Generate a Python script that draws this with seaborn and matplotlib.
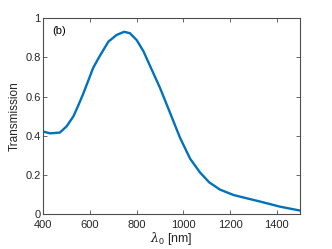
import numpy as np
import pandas as pd
import matplotlib
matplotlib.use('Agg')
import matplotlib.pyplot as plt
import seaborn as sns

# Values
wavelength = [400, 429, 471, 500, 529, 550, 571, 593, 614, 643, 679, 714, 746,
              771, 800, 829, 857, 900, 943, 986, 1029, 1071, 1111, 1157, 1214,
              1243, 1329, 1414, 1500]
transmission = [0.422, 0.413, 0.417, 0.449, 0.50, 0.556, 0.615, 0.683, 0.748,
                 0.81, 0.881, 0.915, 0.931, 0.924, 0.889, 0.832, 0.758, 0.645,
                 0.518, 0.39, 0.284, 0.214, 0.163, 0.126, 0.099, 0.090, 0.065,
                 0.039, 0.019]
xticks = [400, 600, 800, 1000, 1200, 1400]
yticks = [0, 0.2, 0.4, 0.6, 0.8, 1]
yticklabels = ['0', '0.2', '0.4', '0.6', '0.8', '1']

df = pd.DataFrame({'wl': wavelength, 'T': transmission})

sns.set_style('ticks')
plt.rcParams['font.family'] = ['Liberation Sans', 'DejaVu Sans']
plt.rcParams['mathtext.fontset'] = 'custom'
plt.rcParams['mathtext.rm'] = 'Liberation Sans'
plt.rcParams['mathtext.it'] = 'DejaVu Serif:italic'

fig = plt.figure(figsize=(3.32, 2.49), dpi=100)
ax = fig.add_axes([0.1305, 0.1394, 0.7731, 0.7871])

sns.lineplot(data=df, x='wl', y='T', ax=ax, color='#0072BD', linewidth=1.7,
             solid_joinstyle='round')

ax.set_xlim(400, 1500)
ax.set_ylim(0, 1)
ax.set_xticks(xticks)
ax.set_yticks(yticks)
ax.set_yticklabels(yticklabels)

axis_color = '#4d4d4d'
for side in ['top', 'right', 'bottom', 'left']:
    ax.spines[side].set_visible(True)
    ax.spines[side].set_color(axis_color)
    ax.spines[side].set_linewidth(0.8)
ax.tick_params(direction='in', length=3, width=0.6, color=axis_color,
               labelsize=8, labelcolor='#262626', top=True, right=True)
ax.tick_params(axis='x', pad=4)
ax.tick_params(axis='y', pad=2)

ax.set_xlabel(r'$\lambda_{\mathrm{0}}$ [nm]', fontsize=9, color='#262626', labelpad=0)
ax.set_ylabel('Transmission', fontsize=8.5, color='#262626', labelpad=3)

ax.text(440, 0.935, '(b)', fontsize=8, va='center', ha='left', color='#000000')

fig.savefig('out.png', dpi=100)
